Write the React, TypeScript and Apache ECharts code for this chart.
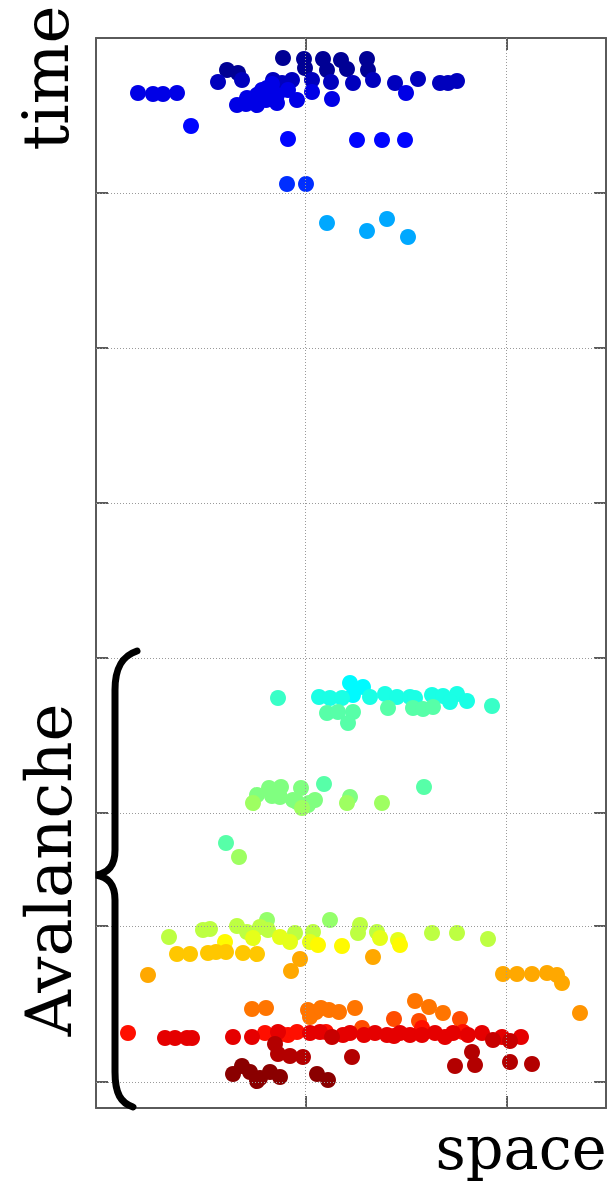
import React, { useEffect, useRef } from "react";
import * as echarts from "echarts";

// Axis grid positions (space units 0..510, time units 0..1070, time grows downward)
const SPACE_TICKS = [209.5, 410.5];
const TIME_TICKS = [155, 310, 465, 620, 775, 888, 1044];

// Spikes: [space, time]
const navyTop = [[187,20],[208,21],[227,21],[245,22],[271,21],[209,30],[231,32],[251,31],[272,32],[131,32],[142,35]];
const darkBlueRow = [[122,44],[146,42],[177,42],[196,42],[216,42],[235,44],[257,45],[277,42],[299,45],[322,41],[344,45],[352,45],[361,43],[186,45]];
const blueSpread = [[310,55],[42,55],[57,56],[67,56],[81,55],[171,50],[161,57],[151,60],[141,67],[161,67],[181,65],[181,57],[192,52],[201,62],[216,54],[236,61],[176,46],[166,52],[150,66],[170,62]];
const blueLate = [[95,88],[192,101],[261,102],[286,102],[309,102]];
const blueTail = [[191,146],[210,146]];
const skyTail = [[231,185],[271,193],[291,181],[312,199]];
const cyanCore = [[254,645],[267,649],[257,657]];
const cyanRow = [[223,659],[234,660],[246,660],[274,659],[289,656],[301,659],[314,659],[319,660],[336,657],[347,658],[361,656],[354,664],[371,663]];
const turquoiseEdge = [[182,660],[396,668]];
const mintRow = [[231,675],[242,674],[257,674],[252,685],[292,670],[317,670],[327,671],[337,669],[228,746],[328,749],[130,805]];
const greenBurst = [[161,757],[173,750],[185,749],[205,750],[184,759],[201,764],[219,762],[254,759],[213,765],[176,758],[197,762],[212,767]];
const greenLate = [[157,765],[206,770],[286,765],[251,765],[143,819]];
const limeTop = [[234,882],[171,882]];
const limeRow = [[141,888],[264,887],[107,892],[114,891],[151,894],[164,889],[172,892],[199,895],[217,894],[262,895],[281,894],[336,895],[361,895],[73,899],[392,901]];
const yellowGreen = [[157,900],[184,899],[194,904],[214,904],[284,900],[302,902]];
const yellowRow = [[129,904],[222,907],[246,908],[304,907]];
const goldRow = [[81,916],[94,916],[112,915],[130,914],[147,915],[161,916],[120,914]];
const amberRow = [[204,921],[195,933],[277,919],[52,937],[407,936],[421,936],[436,936],[451,935],[461,937],[466,945]];
const amberLate = [[484,975]];
const orangeRow = [[156,971],[170,970],[212,972],[220,974],[233,972],[243,974],[259,970],[319,963],[333,969],[347,975],[214,979],[225,970]];
const deepOrange = [[298,981],[323,983],[364,981],[266,990]];
const redOrange = [[32,995],[169,995],[192,997],[201,994],[367,994],[326,990],[230,994],[185,996]];
const redRow = [[69,1000],[79,1000],[91,1000],[96,1000],[137,999],[156,999],[182,994],[214,995],[224,994],[247,997],[254,995],[279,995],[291,997],[304,995],[314,997],[326,997],[339,995],[349,999],[357,995],[386,995],[425,999],[268,997],[298,998],[372,997],[406,999]];
const crimsonRow = [[236,999],[397,1002],[414,1003]];
const maroonRow = [[179,1006],[182,1016],[194,1018],[207,1019],[256,1019],[376,1014],[379,1027],[359,1028],[414,1024],[436,1026]];
const darkMaroon = [[137,1036],[146,1028],[154,1034],[164,1040],[174,1034],[184,1039],[221,1036],[232,1042],[161,1043]];

// phase (0..1 on the jet colour scale) for each group
const GROUPS: [number, number[][]][] = [
  [0.02, navyTop], [0.06, darkBlueRow], [0.1, blueSpread], [0.13, blueLate], [0.17, blueTail], [0.29, skyTail],
  [0.37, cyanCore], [0.4, cyanRow], [0.43, turquoiseEdge], [0.46, mintRow], [0.5, greenBurst], [0.53, greenLate],
  [0.52, limeTop], [0.56, limeRow], [0.6, yellowGreen], [0.63, yellowRow], [0.68, goldRow], [0.71, amberRow],
  [0.73, amberLate], [0.76, orangeRow], [0.8, deepOrange], [0.86, redOrange], [0.9, redRow], [0.93, crimsonRow],
  [0.95, maroonRow], [0.99, darkMaroon],
];

const BRACE_D = "M 137 651 C 122 656 115 668 115 690 L 115 850 C 115 866 108 873 96 875 C 108 877 115 884 115 900 L 115 1072 C 115 1094 121 1103 133 1107";

let braceRegistered = false;
function ensureBrace() {
  if (braceRegistered) return;
  echarts.graphic.registerShape("brace", echarts.graphic.extendPath(BRACE_D, {}));
  braceRegistered = true;
}

function jet(t: number) {
  const c = (v: number) => Math.max(0, Math.min(1, v));
  const r = c(1.5 - Math.abs(4 * t - 3));
  const g = c(1.5 - Math.abs(4 * t - 2));
  const b = c(1.5 - Math.abs(4 * t - 1));
  return `rgb(${Math.round(r * 255)},${Math.round(g * 255)},${Math.round(b * 255)})`;
}

export default function App() {
  const ref = useRef<HTMLDivElement>(null);
  useEffect(() => {
    if (!ref.current) return;
    ensureBrace();
    const chart = echarts.init(ref.current, undefined, { renderer: "svg" });
    const points: any[] = [];
    GROUPS.forEach(([phase, pts]) => {
      pts.forEach((p) => points.push({ value: p, itemStyle: { color: jet(phase), opacity: 1 } }));
    });
    const frame = { color: "#5a5a5a", width: 2 };
    const mkAxis = (min: number, max: number, ticks: number[], position: string, inverse = false) => ({
      type: "value",
      min,
      max,
      inverse,
      position,
      axisLine: { show: true, onZero: false, lineStyle: frame },
      axisTick: { show: true, inside: true, length: 12, customValues: ticks, lineStyle: frame },
      axisLabel: { show: false, customValues: ticks },
      splitLine: { show: false },
    });
    const fontFamily = '"DejaVu Serif", serif';
    const label = (text: string, x: number, y: number, rot: number, size: number) => ({
      type: "text",
      x,
      y,
      rotation: rot,
      z: 100,
      style: {
        text,
        fontSize: size,
        fontFamily,
        fill: "#000",
        align: "center",
        verticalAlign: "middle",
        textAlign: "center",
        textVerticalAlign: "middle",
      },
    });
    chart.setOption({
      animation: false,
      backgroundColor: "#fff",
      grid: { left: 96, top: 38, width: 510, height: 1070 },
      xAxis: [mkAxis(0, 510, SPACE_TICKS, "bottom"), mkAxis(0, 510, SPACE_TICKS, "top")],
      yAxis: [mkAxis(0, 1070, TIME_TICKS, "left", true), mkAxis(0, 1070, TIME_TICKS, "right", true)],
      series: [
        {
          type: "scatter",
          data: [],
          z: 1,
          silent: true,
          markLine: {
            silent: true,
            symbol: ["none", "none"],
            label: { show: false },
            lineStyle: { type: [1, 2], color: "#9a9a9a", width: 1 },
            data: [
              ...SPACE_TICKS.map((v) => ({ xAxis: v })),
              ...TIME_TICKS.map((v) => ({ yAxis: v })),
            ],
          },
        },
        {
          type: "scatter",
          z: 3,
          symbol: "circle",
          symbolSize: 16,
          itemStyle: { opacity: 1 },
          data: points,
          silent: true,
        },
      ],
      graphic: [
        {
          type: "brace",
          x: 0,
          y: 0,
          z: 100,
          style: { stroke: "#000", lineWidth: 7, fill: "none", lineCap: "round" },
        },
        label("time", 46, 78, Math.PI / 2, 64),
        label("Avalanche", 49, 870, Math.PI / 2, 64),
        label("space", 521, 1148, 0, 59),
      ],
    });
    return () => chart.dispose();
  }, []);
  return (
    <div
      ref={ref}
      style={{ position: "absolute", left: 0, top: 0, width: 615, height: 1182 }}
    />
  );
}
